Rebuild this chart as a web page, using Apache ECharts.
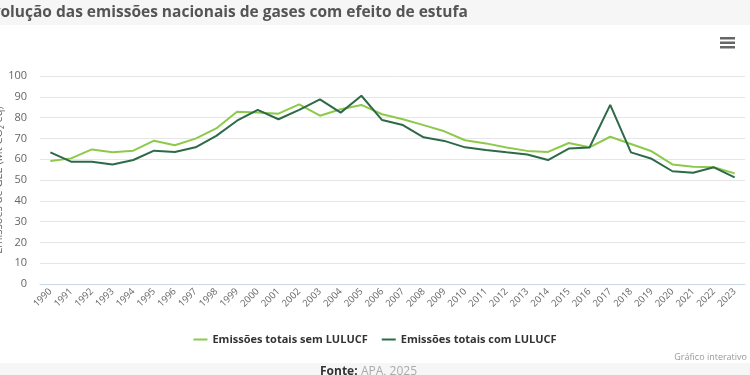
<!DOCTYPE html>
<html>
<head>
<meta charset="utf-8">
<script src="https://cdn.jsdelivr.net/npm/echarts@6/dist/echarts.min.js"></script>
<style>
  html, body { margin: 0; padding: 0; background: #fff; }
  #chart { width: 750px; height: 375px; }
</style>
</head>
<body>
<div id="chart"></div>
<script>
  // anos
  let years = ['1990', '1991', '1992', '1993', '1994', '1995', '1996', '1997', '1998', '1999',
    '2000', '2001', '2002', '2003', '2004', '2005', '2006', '2007', '2008', '2009',
    '2010', '2011', '2012', '2013', '2014', '2015', '2016', '2017', '2018', '2019',
    '2020', '2021', '2022', '2023'];

  // Emissões totais sem LULUCF
  let semLulucf = [59.1, 60.4, 64.7, 63.3, 64.1, 68.9, 66.7, 69.9, 74.8, 82.8,
    82.4, 81.9, 86.4, 80.9, 84.0, 86.1, 81.6, 79.2, 76.4, 73.4,
    69.1, 67.6, 65.6, 64.0, 63.5, 67.8, 65.7, 70.8, 67.3, 63.8,
    57.5, 56.4, 56.1, 53.2];

  // Emissões totais com LULUCF
  let comLulucf = [63.3, 58.8, 58.8, 57.5, 59.6, 64.1, 63.5, 65.7, 71.2, 78.5,
    83.7, 79.2, 83.7, 88.8, 82.4, 90.5, 78.8, 76.4, 70.5, 68.8,
    65.7, 64.4, 63.3, 62.3, 59.6, 65.1, 65.6, 86.1, 63.3, 60.2,
    54.2, 53.5, 56.1, 51.3];

  let chart = echarts.init(document.getElementById('chart'));
  let option = {
    backgroundColor: '#ffffff',
    animation: false,
    textStyle: { fontFamily: 'Open Sans' },
    title: {
      text: 'Evolução das emissões nacionais de gases com efeito de estufa',
      left: -22,
      top: 0,
      textStyle: { fontFamily: 'Open Sans', fontWeight: 'bold', fontSize: 15.5, color: '#555555' }
    },
    graphic: [
      { type: 'rect', z: -10, shape: { x: 0, y: 0, width: 750, height: 25 }, style: { fill: '#f6f6f6' } },
      { type: 'rect', z: -10, shape: { x: 0, y: 363, width: 750, height: 12 }, style: { fill: '#f6f6f6' } },
      { type: 'rect', shape: { x: 720, y: 37, width: 15, height: 2.5 }, style: { fill: '#666' } },
      { type: 'rect', shape: { x: 720, y: 41.5, width: 15, height: 2.5 }, style: { fill: '#666' } },
      { type: 'rect', shape: { x: 720, y: 46, width: 15, height: 2.5 }, style: { fill: '#666' } },
      {
        type: 'text', right: 3, top: 353,
        style: { text: 'Gráfico interativo', fontSize: 9, fill: '#999', fontFamily: 'Open Sans' }
      },
      {
        type: 'text', left: 320, top: 366,
        style: {
          text: '{b|Fonte:} {g|APA, 2025}',
          rich: {
            b: { fontSize: 12, fontWeight: 'bold', fill: '#333', fontFamily: 'Open Sans' },
            g: { fontSize: 12, fill: '#aaa', fontFamily: 'Open Sans' }
          }
        }
      }
    ],
    legend: {
      top: 329,
      left: 'center',
      itemGap: 14,
      itemWidth: 14,
      itemHeight: 2,
      icon: 'rect',
      textStyle: { fontSize: 11, fontWeight: 'bold', color: '#333', fontFamily: 'Open Sans' },
      data: ['Emissões totais sem LULUCF', 'Emissões totais com LULUCF']
    },
    grid: { left: 40, right: 5, top: 76, bottom: 91, containLabel: false, outerBoundsMode: 'none' },
    xAxis: {
      type: 'category',
      data: years,
      boundaryGap: true,
      axisLine: { lineStyle: { color: '#ccd6eb' } },
      axisTick: { alignWithLabel: false, length: 8, lineStyle: { color: '#ccd6eb' } },
      axisLabel: { rotate: 45, fontSize: 9.5, color: '#666', margin: 6, interval: 0 }
    },
    yAxis: {
      type: 'value',
      min: 0,
      max: 100,
      interval: 10,
      name: 'Emissões de GEE (Mt CO₂ eq)',
      nameLocation: 'middle',
      nameGap: 36,
      nameMoveOverlap: false,
      nameTextStyle: { fontSize: 11, color: '#666' },
      axisLine: { show: false },
      axisTick: { show: false },
      axisLabel: { fontSize: 11, color: '#666', margin: 13 },
      splitLine: { lineStyle: { color: '#e6e6e6' } }
    },
    series: [
      {
        name: 'Emissões totais sem LULUCF',
        type: 'line',
        data: semLulucf,
        showSymbol: false,
        symbol: 'none',
        color: '#8dc94a',
        lineStyle: { width: 2, color: '#8dc94a' }
      },
      {
        name: 'Emissões totais com LULUCF',
        type: 'line',
        data: comLulucf,
        showSymbol: false,
        symbol: 'none',
        color: '#2d6a48',
        lineStyle: { width: 2, color: '#2d6a48' }
      }
    ]
  };
  chart.setOption(option);
</script>
</body>
</html>
